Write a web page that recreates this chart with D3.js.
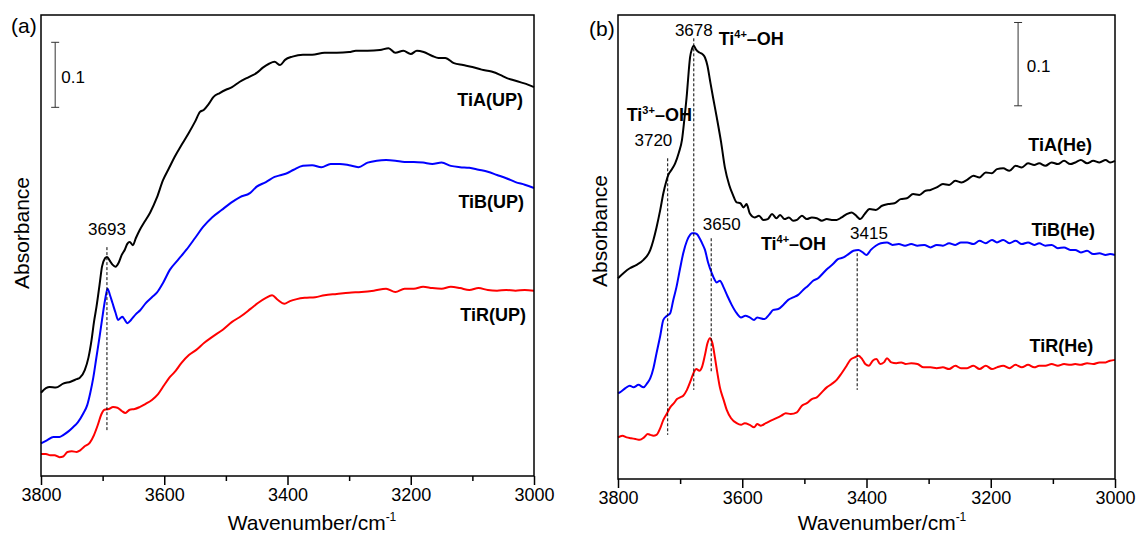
<!DOCTYPE html>
<html>
<head>
<meta charset="utf-8">
<script src="https://cdn.jsdelivr.net/npm/d3@7"></script>
<style>
  body { margin: 0; background: #fff; }
  svg { font-family: "Liberation Sans", Arial, sans-serif; }
</style>
</head>
<body>
<svg id="chart" width="1136" height="536"></svg>
<script>
// x axis ticks (wavenumber, cm-1)
const tickMajor = [3800, 3600, 3400, 3200, 3000];
const tickMinor = [3700, 3500, 3300, 3100];

// panel (a): [wavenumber, absorbance]
const tiA_UP = [[3800,0.128],[3792,0.135],[3786,0.137],[3776,0.136],[3764,0.142],[3752,0.145],[3742,0.149],[3737,0.151],[3729,0.163],[3723,0.182],[3718,0.209],[3714,0.237],[3710,0.260],[3705,0.294],[3701,0.322],[3696,0.335],[3693,0.337],[3689,0.332],[3684,0.325],[3679,0.322],[3674,0.328],[3669,0.340],[3664,0.348],[3660,0.357],[3656,0.360],[3651,0.355],[3646,0.366],[3640,0.378],[3632,0.391],[3623,0.405],[3612,0.428],[3602,0.455],[3592,0.474],[3583,0.491],[3572,0.509],[3560,0.528],[3550,0.545],[3542,0.560],[3536,0.563],[3528,0.572],[3520,0.583],[3510,0.589],[3500,0.594],[3490,0.598],[3478,0.606],[3462,0.614],[3450,0.620],[3440,0.628],[3430,0.634],[3421,0.637],[3412,0.632],[3404,0.640],[3392,0.645],[3375,0.648],[3360,0.648],[3340,0.651],[3320,0.651],[3300,0.652],[3289,0.654],[3270,0.654],[3250,0.655],[3236,0.658],[3225,0.651],[3212,0.654],[3200,0.649],[3190,0.654],[3179,0.652],[3165,0.646],[3155,0.643],[3144,0.643],[3130,0.635],[3115,0.632],[3100,0.629],[3085,0.625],[3069,0.622],[3055,0.617],[3044,0.612],[3034,0.609],[3020,0.605],[3010,0.602],[3000,0.598]];
const tiB_UP = [[3800,0.050],[3790,0.055],[3780,0.060],[3770,0.060],[3764,0.063],[3755,0.069],[3748,0.075],[3740,0.083],[3731,0.097],[3725,0.109],[3720,0.128],[3715,0.152],[3710,0.183],[3705,0.214],[3701,0.240],[3696,0.271],[3692,0.288],[3688,0.278],[3684,0.266],[3679,0.251],[3675,0.240],[3671,0.243],[3668,0.245],[3664,0.240],[3660,0.235],[3654,0.240],[3646,0.249],[3639,0.255],[3630,0.266],[3620,0.275],[3612,0.282],[3602,0.297],[3591,0.317],[3578,0.332],[3564,0.348],[3550,0.366],[3537,0.383],[3522,0.398],[3507,0.409],[3492,0.420],[3477,0.429],[3461,0.435],[3450,0.445],[3435,0.452],[3421,0.460],[3410,0.463],[3400,0.466],[3390,0.471],[3375,0.477],[3360,0.478],[3345,0.475],[3330,0.480],[3315,0.480],[3300,0.478],[3285,0.475],[3270,0.482],[3255,0.485],[3240,0.486],[3225,0.485],[3210,0.483],[3195,0.483],[3180,0.482],[3165,0.480],[3150,0.482],[3135,0.477],[3120,0.475],[3105,0.474],[3090,0.471],[3075,0.468],[3060,0.463],[3045,0.458],[3030,0.452],[3015,0.448],[3000,0.443]];
const tiR_UP = [[3800,0.034],[3792,0.034],[3785,0.032],[3778,0.032],[3770,0.029],[3764,0.030],[3757,0.037],[3750,0.038],[3742,0.037],[3737,0.039],[3730,0.045],[3721,0.051],[3714,0.063],[3708,0.078],[3702,0.095],[3697,0.102],[3690,0.103],[3683,0.106],[3676,0.105],[3669,0.100],[3663,0.097],[3656,0.102],[3648,0.103],[3640,0.106],[3630,0.111],[3620,0.117],[3610,0.126],[3600,0.140],[3592,0.151],[3583,0.160],[3572,0.174],[3560,0.186],[3548,0.194],[3535,0.205],[3522,0.214],[3505,0.225],[3490,0.237],[3475,0.246],[3460,0.257],[3448,0.266],[3435,0.274],[3425,0.278],[3416,0.271],[3405,0.265],[3396,0.269],[3385,0.272],[3372,0.274],[3355,0.275],[3340,0.278],[3320,0.280],[3300,0.282],[3280,0.283],[3260,0.285],[3240,0.288],[3225,0.283],[3210,0.288],[3195,0.288],[3180,0.291],[3165,0.289],[3150,0.288],[3135,0.291],[3120,0.289],[3105,0.286],[3090,0.289],[3075,0.286],[3060,0.285],[3045,0.286],[3030,0.285],[3015,0.286],[3000,0.285]];

// panel (b): [wavenumber, absorbance]
const tiA_He = [[3800,0.241],[3790,0.248],[3781,0.253],[3770,0.257],[3759,0.263],[3748,0.275],[3743,0.287],[3738,0.302],[3732,0.323],[3727,0.343],[3722,0.358],[3719,0.365],[3713,0.372],[3708,0.379],[3702,0.392],[3697,0.407],[3693,0.433],[3689,0.463],[3686,0.491],[3684,0.506],[3681,0.516],[3678,0.520],[3674,0.515],[3669,0.512],[3664,0.510],[3660,0.506],[3656,0.496],[3652,0.479],[3647,0.458],[3641,0.434],[3634,0.404],[3628,0.374],[3621,0.353],[3615,0.341],[3609,0.332],[3603,0.331],[3598,0.326],[3593,0.330],[3588,0.319],[3580,0.314],[3573,0.316],[3566,0.311],[3559,0.312],[3552,0.318],[3545,0.313],[3539,0.317],[3532,0.312],[3525,0.314],[3518,0.310],[3512,0.311],[3504,0.316],[3496,0.312],[3488,0.314],[3480,0.313],[3472,0.310],[3464,0.312],[3456,0.311],[3448,0.311],[3440,0.314],[3432,0.318],[3424,0.320],[3418,0.317],[3410,0.312],[3403,0.318],[3395,0.324],[3385,0.323],[3375,0.328],[3365,0.330],[3355,0.331],[3345,0.336],[3335,0.337],[3325,0.342],[3315,0.341],[3305,0.346],[3297,0.347],[3287,0.350],[3277,0.354],[3267,0.353],[3257,0.358],[3247,0.356],[3238,0.359],[3228,0.364],[3218,0.362],[3208,0.368],[3198,0.367],[3190,0.372],[3180,0.373],[3170,0.370],[3160,0.376],[3150,0.374],[3140,0.379],[3130,0.377],[3122,0.379],[3112,0.376],[3102,0.380],[3092,0.378],[3082,0.382],[3072,0.378],[3064,0.380],[3055,0.383],[3045,0.379],[3035,0.382],[3025,0.380],[3015,0.383],[3008,0.380],[3000,0.382]];
const tiB_He = [[3800,0.103],[3797,0.104],[3788,0.109],[3781,0.112],[3775,0.110],[3767,0.113],[3759,0.110],[3753,0.115],[3748,0.121],[3743,0.133],[3738,0.151],[3732,0.172],[3727,0.191],[3721,0.196],[3716,0.199],[3711,0.215],[3706,0.230],[3700,0.253],[3695,0.271],[3689,0.286],[3684,0.293],[3681,0.295],[3677,0.295],[3673,0.294],[3668,0.288],[3664,0.282],[3660,0.275],[3655,0.260],[3649,0.247],[3645,0.240],[3641,0.236],[3636,0.238],[3630,0.230],[3624,0.220],[3617,0.209],[3609,0.199],[3602,0.194],[3595,0.196],[3588,0.194],[3581,0.191],[3576,0.194],[3571,0.193],[3564,0.192],[3557,0.197],[3550,0.203],[3542,0.204],[3534,0.209],[3526,0.215],[3518,0.218],[3510,0.221],[3502,0.227],[3494,0.232],[3486,0.238],[3478,0.241],[3470,0.247],[3462,0.253],[3454,0.258],[3446,0.264],[3437,0.266],[3429,0.270],[3421,0.274],[3413,0.275],[3406,0.272],[3400,0.269],[3393,0.275],[3385,0.280],[3377,0.283],[3367,0.284],[3358,0.281],[3348,0.282],[3338,0.280],[3328,0.282],[3318,0.280],[3307,0.281],[3297,0.278],[3287,0.281],[3277,0.280],[3267,0.283],[3257,0.281],[3248,0.284],[3238,0.284],[3228,0.282],[3218,0.286],[3208,0.283],[3198,0.287],[3190,0.284],[3180,0.287],[3170,0.283],[3160,0.286],[3150,0.282],[3140,0.284],[3130,0.281],[3122,0.283],[3112,0.280],[3102,0.281],[3092,0.277],[3082,0.278],[3072,0.275],[3064,0.275],[3055,0.272],[3045,0.274],[3035,0.270],[3025,0.271],[3015,0.269],[3008,0.270],[3000,0.269]];
const tiR_He = [[3800,0.050],[3793,0.052],[3786,0.050],[3779,0.049],[3772,0.048],[3765,0.047],[3758,0.050],[3752,0.054],[3748,0.053],[3743,0.052],[3738,0.053],[3732,0.061],[3727,0.071],[3721,0.079],[3716,0.086],[3710,0.091],[3705,0.096],[3700,0.098],[3695,0.100],[3689,0.107],[3683,0.118],[3678,0.128],[3674,0.132],[3669,0.130],[3665,0.134],[3660,0.149],[3656,0.163],[3652,0.169],[3648,0.163],[3644,0.146],[3640,0.127],[3636,0.110],[3630,0.095],[3625,0.083],[3618,0.073],[3609,0.067],[3602,0.065],[3596,0.067],[3588,0.065],[3581,0.062],[3576,0.066],[3570,0.064],[3562,0.067],[3554,0.070],[3545,0.073],[3537,0.076],[3530,0.079],[3522,0.078],[3512,0.080],[3504,0.088],[3496,0.091],[3488,0.096],[3480,0.098],[3472,0.104],[3464,0.110],[3456,0.114],[3448,0.119],[3440,0.127],[3432,0.136],[3426,0.143],[3419,0.146],[3413,0.148],[3407,0.144],[3402,0.138],[3396,0.136],[3390,0.142],[3384,0.144],[3378,0.138],[3372,0.140],[3367,0.145],[3360,0.140],[3352,0.139],[3344,0.140],[3337,0.138],[3328,0.139],[3318,0.138],[3308,0.134],[3297,0.134],[3287,0.133],[3277,0.134],[3267,0.132],[3257,0.136],[3248,0.133],[3238,0.133],[3228,0.136],[3218,0.132],[3208,0.136],[3198,0.132],[3190,0.134],[3180,0.136],[3170,0.133],[3160,0.137],[3150,0.134],[3140,0.137],[3130,0.134],[3122,0.136],[3112,0.136],[3102,0.138],[3092,0.136],[3082,0.138],[3072,0.137],[3064,0.138],[3055,0.137],[3045,0.139],[3035,0.138],[3025,0.140],[3015,0.140],[3008,0.142],[3000,0.143]];

// marked peaks: wavenumber, label, dashed line from/to (absorbance), label level
const peaksA = [{wn: 3693, text: "3693", from: 0.352, to: 0.068, ly: 0.380}];
const peaksB = [
  {wn: 3678, text: "3678", from: 0.529, to: 0.107, ly: 0.539},
  {wn: 3720, text: "3720", from: 0.385, to: 0.053, ly: 0.407, lx: 3743},
  {wn: 3650, text: "3650", from: 0.289, to: 0.128, ly: 0.306, lx: 3633},
  {wn: 3415, text: "3415", from: 0.271, to: 0.107, ly: 0.295, lx: 3396}
];

const svg = d3.select("#chart");

const panels = [
  {
    tag: "(a)", left: 41, right: 534, top: 15, bottom: 476, yMax: 0.709,
    tagX: 11, tagY: 26, absX: 22, absY: 233, titleX: 312,
    series: [
      {data: tiA_UP, color: "#000", name: "TiA(UP)", wn: 3018, a: 0.578},
      {data: tiB_UP, color: "#0000ff", name: "TiB(UP)", wn: 3016, a: 0.422},
      {data: tiR_UP, color: "#ff0000", name: "TiR(UP)", wn: 3013, a: 0.248}
    ],
    peaks: peaksA,
    bar: {wn: 3777, lo: 0.567, hi: 0.667, textWn: 3767},
    ions: []
  },
  {
    tag: "(b)", left: 618, right: 1115, top: 15, bottom: 479, yMax: 0.557,
    tagX: 589, tagY: 29, absX: 600, absY: 231, titleX: 882,
    series: [
      {data: tiA_He, color: "#000", name: "TiA(He)", wn: 3037, a: 0.401},
      {data: tiB_He, color: "#0000ff", name: "TiB(He)", wn: 3032, a: 0.299},
      {data: tiR_He, color: "#ff0000", name: "TiR(He)", wn: 3035, a: 0.160}
    ],
    peaks: peaksB,
    bar: {wn: 3156, lo: 0.448, hi: 0.548, textWn: 3142},
    ions: [
      {wn: 3638, a: 0.529, ch: "4+"},
      {wn: 3786, a: 0.437, ch: "3+"},
      {wn: 3570, a: 0.282, ch: "4+"}
    ]
  }
];

panels.forEach(p => {
  const x = d3.scaleLinear().domain([3800, 3000]).range([p.left, p.right]);
  const y = d3.scaleLinear().domain([0, p.yMax]).range([p.bottom, p.top]);
  const g = svg.append("g");

  // ticks under the frame
  const major = g.append("g")
    .attr("transform", `translate(0,${p.bottom})`)
    .call(d3.axisBottom(x).tickValues(tickMajor).tickSize(9).tickPadding(3).tickFormat(d3.format("d")));
  major.attr("font-family", null).attr("font-size", 18);
  major.select(".domain").remove();
  major.selectAll("line").attr("stroke-width", 1.5);
  major.selectAll("text").attr("fill", "#000");

  const minor = g.append("g")
    .attr("transform", `translate(0,${p.bottom})`)
    .call(d3.axisBottom(x).tickValues(tickMinor).tickSize(5).tickFormat(""));
  minor.select(".domain").remove();
  minor.selectAll("line").attr("stroke-width", 1.5);

  // spectra
  const line = d3.line()
    .x(d => x(d[0]))
    .y(d => y(d[1]))
    .curve(d3.curveMonotoneX);

  p.series.forEach(s => {
    g.append("path")
      .datum(s.data)
      .attr("d", line)
      .attr("fill", "none")
      .attr("stroke", s.color)
      .attr("stroke-width", 2)
      .attr("stroke-linejoin", "round");

    g.append("text")
      .attr("x", x(s.wn))
      .attr("y", y(s.a))
      .attr("dy", "0.35em")
      .attr("text-anchor", "end")
      .attr("font-size", 18)
      .attr("font-weight", "bold")
      .text(s.name);
  });

  // dashed peak markers
  p.peaks.forEach(k => {
    g.append("line")
      .attr("x1", x(k.wn)).attr("x2", x(k.wn))
      .attr("y1", y(k.from)).attr("y2", y(k.to))
      .attr("stroke", "#000")
      .attr("stroke-width", 1)
      .attr("stroke-dasharray", "3,2");
    g.append("text")
      .attr("x", x(k.lx || k.wn))
      .attr("y", y(k.ly))
      .attr("dy", "0.35em")
      .attr("text-anchor", "middle")
      .attr("font-size", 17)
      .text(k.text);
  });

  // Ti-OH assignments
  p.ions.forEach(t => {
    const txt = g.append("text")
      .attr("x", x(t.wn))
      .attr("y", y(t.a))
      .attr("dy", "0.35em")
      .attr("font-size", 18)
      .attr("font-weight", "bold");
    txt.append("tspan").text("Ti");
    txt.append("tspan").attr("dy", -7).attr("font-size", 11).text(t.ch);
    txt.append("tspan").attr("dy", 7).text("\u2013OH");
  });

  // 0.1 absorbance scale bar
  const bx = x(p.bar.wn);
  g.append("line")
    .attr("x1", bx).attr("x2", bx)
    .attr("y1", y(p.bar.lo)).attr("y2", y(p.bar.hi))
    .attr("stroke", "#333").attr("stroke-width", 1);
  [p.bar.lo, p.bar.hi].forEach(v => {
    g.append("line")
      .attr("x1", bx - 4).attr("x2", bx + 4)
      .attr("y1", y(v)).attr("y2", y(v))
      .attr("stroke", "#333").attr("stroke-width", 1);
  });
  g.append("text")
    .attr("x", x(p.bar.textWn))
    .attr("y", y((p.bar.lo + p.bar.hi) / 2) + 2)
    .attr("dy", "0.35em")
    .attr("font-size", 17)
    .text("0.1");

  // frame
  g.append("rect")
    .attr("x", p.left).attr("y", p.top)
    .attr("width", p.right - p.left).attr("height", p.bottom - p.top)
    .attr("fill", "none")
    .attr("stroke", "#000")
    .attr("stroke-width", 1.5);

  // panel tag and axis titles
  g.append("text")
    .attr("x", p.tagX).attr("y", p.tagY)
    .attr("dy", "0.35em")
    .attr("font-size", 21)
    .text(p.tag);

  g.append("text")
    .attr("transform", `translate(${p.absX},${p.absY}) rotate(-90)`)
    .attr("dy", "0.35em")
    .attr("text-anchor", "middle")
    .attr("font-size", 21)
    .text("Absorbance");

  const title = g.append("text")
    .attr("x", p.titleX)
    .attr("y", 530)
    .attr("text-anchor", "middle")
    .attr("font-size", 21);
  title.append("tspan").text("Wavenumber/cm");
  title.append("tspan").attr("dy", -9).attr("font-size", 12).text("-1");
});
</script>
</body>
</html>
